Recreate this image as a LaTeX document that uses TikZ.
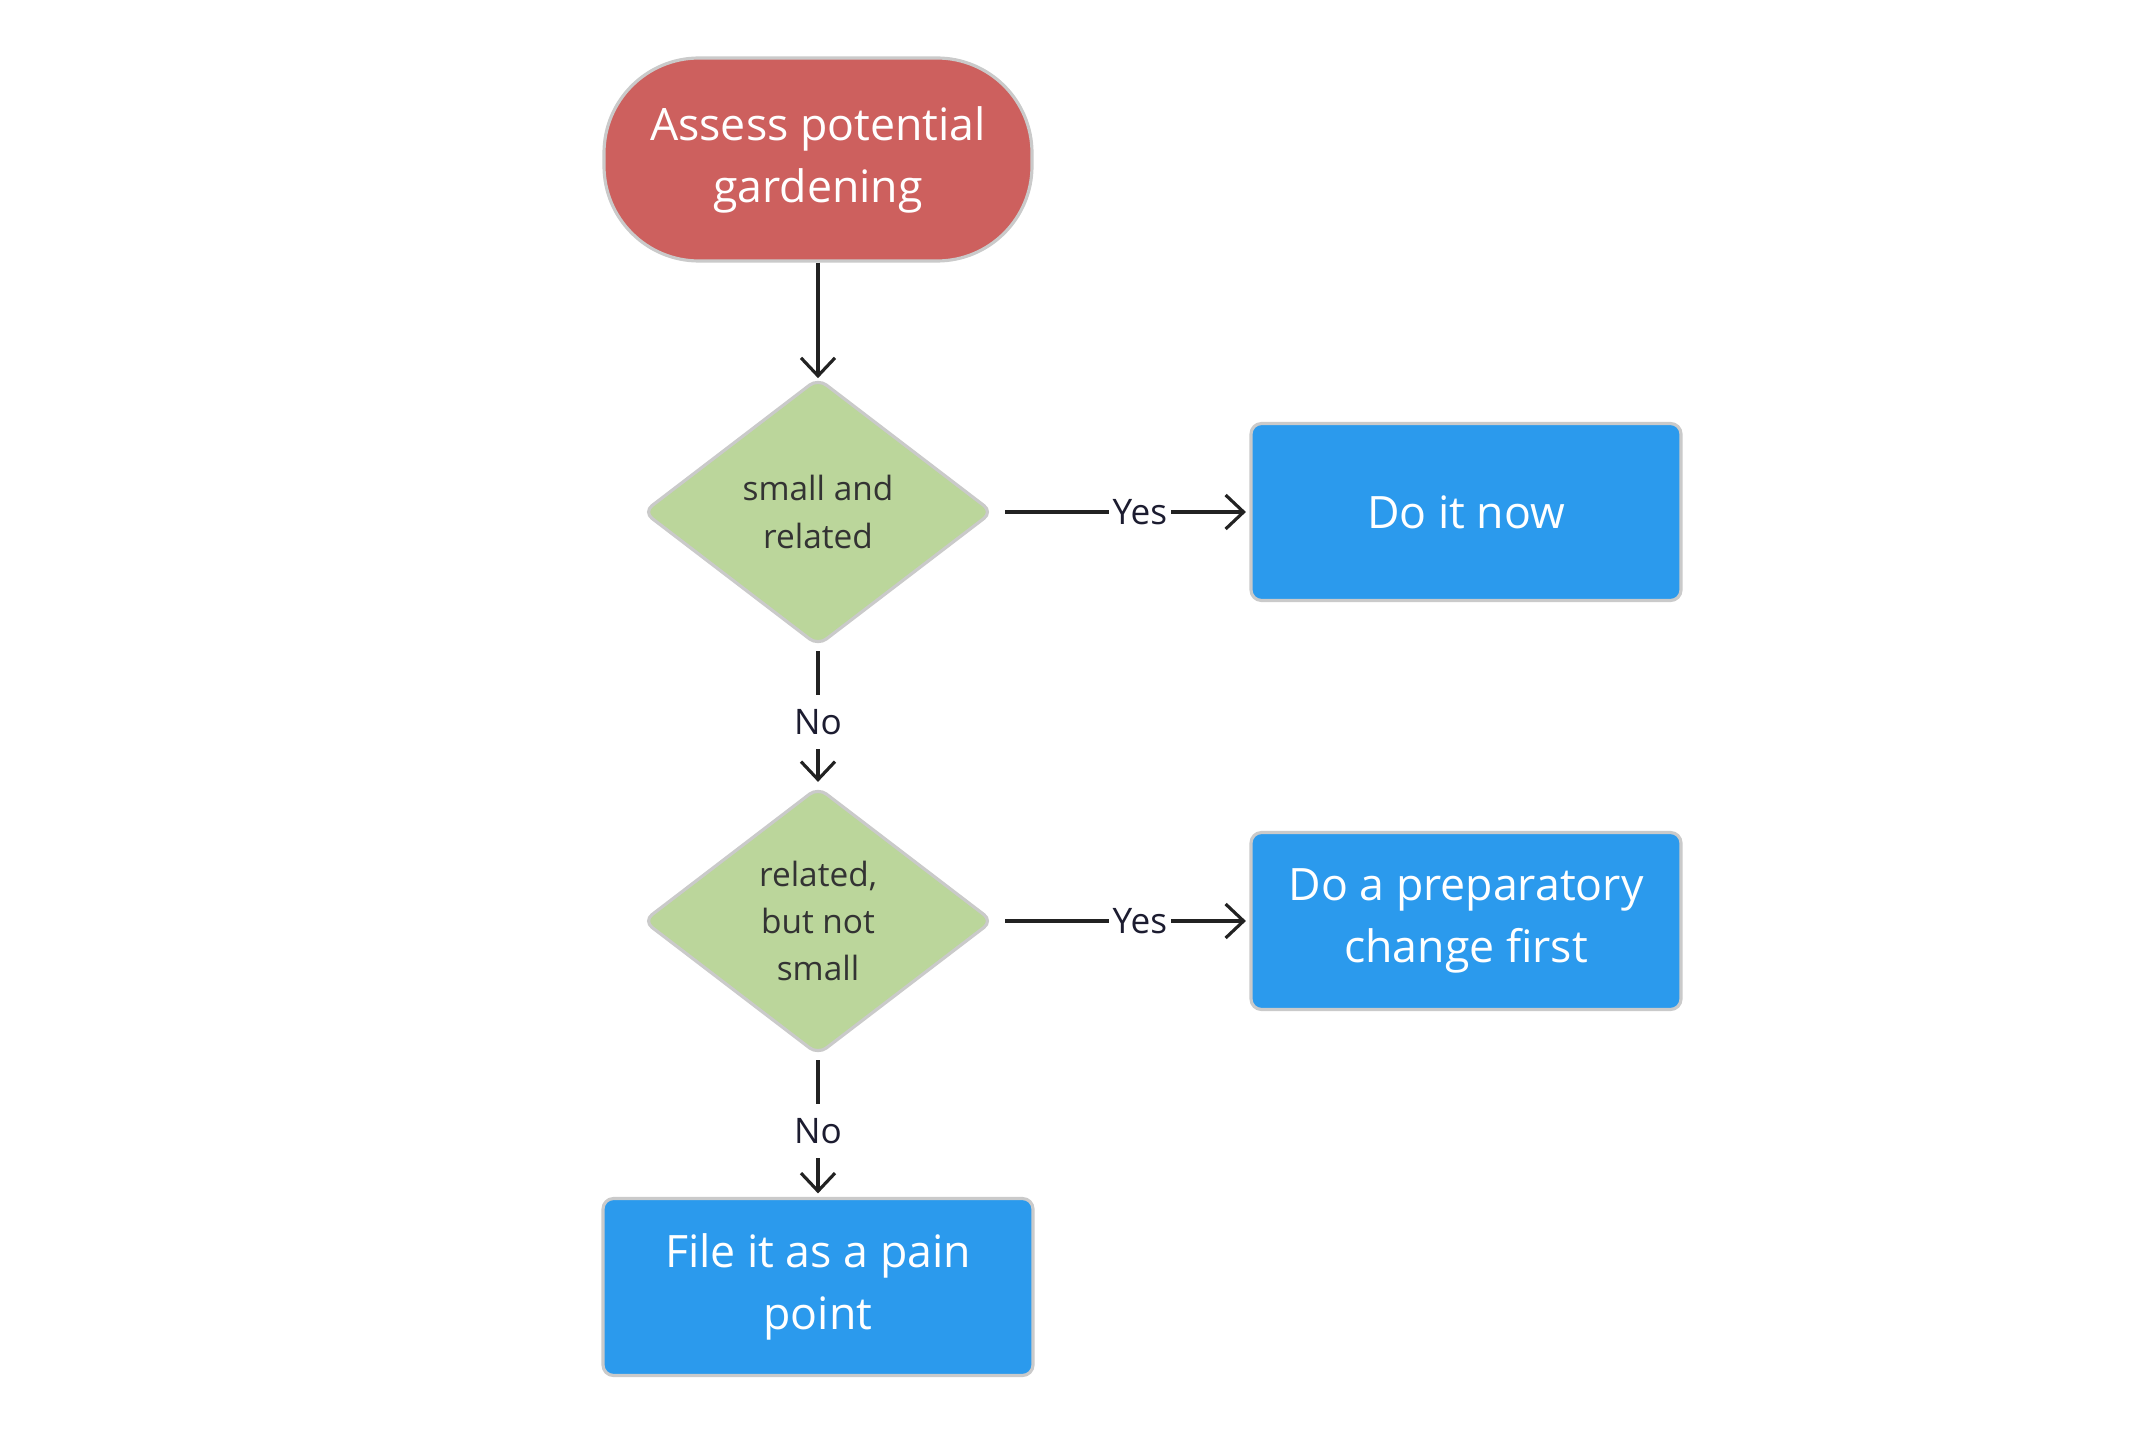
\documentclass[tikz,border=0pt]{standalone}
\usepackage{fontspec}
\setmainfont{Open Sans}
\usetikzlibrary{shapes.geometric,arrows.meta}
\definecolor{termred}{HTML}{CD605E}
\definecolor{decidegreen}{HTML}{BBD69B}
\definecolor{actionblue}{HTML}{2B9AED}
\definecolor{rimgray}{HTML}{CACACA}
\definecolor{linkgray}{HTML}{222222}
\definecolor{answerink}{HTML}{1C1C30}
\begin{document}
\begin{tikzpicture}[
  term/.style={draw=rimgray, line width=0.9pt, fill=termred, text=white, align=center,
    rounded corners=0.95cm, minimum width=4.28cm, minimum height=2.03cm,
    font=\fontsize{12.7}{17.6}\selectfont},
  decide/.style={diamond, draw=rimgray, line width=0.9pt, fill=decidegreen, text=black!80,
    align=center, inner sep=0pt, rounded corners=3pt, minimum width=3.5cm, minimum height=2.68cm,
    font=\fontsize{9.5}{13.4}\selectfont},
  action/.style={draw=rimgray, line width=0.9pt, fill=actionblue, text=white, align=center,
    rounded corners=3pt, minimum width=4.3cm, minimum height=1.77cm,
    font=\fontsize{12.7}{17.6}\selectfont},
  link/.style={-{Straight Barb[length=1.8mm,width=3.4mm]}, line width=0.9pt, color=linkgray},
  answer/.style={fill=white, inner xsep=1pt, inner ysep=4pt, text=answerink,
    font=\fontsize{10}{12}\selectfont}]
\useasboundingbox (0,0) rectangle (21.53,14.45);

\node[term] (assess) at (8.18,12.855) {Assess potential\\gardening};
\node[decide] (small) at (8.18,9.33) {small and\\related};
\node[action] (now) at (14.66,9.33) {Do it now};
\node[decide] (related) at (8.18,5.24) {related,\\but not\\small};
\node[action] (prep) at (14.66,5.24) {Do a preparatory\\change first};
\node[action] (file) at (8.18,1.58) {File it as a pain\\point};

\draw[link, shorten >=-0.5pt] (assess) -- (small);
\draw[link, shorten <=3pt, shorten >=1pt] (small) -- (now) node[answer, pos=0.57]{Yes};
\draw[link, shorten <=1pt, shorten >=1pt] (small) -- (related) node[answer, pos=0.54]{No};
\draw[link, shorten <=3pt, shorten >=1pt] (related) -- (prep) node[answer, pos=0.57]{Yes};
\draw[link, shorten <=1pt, shorten >=1pt] (related) -- (file) node[answer, pos=0.53]{No};

\end{tikzpicture}
\end{document}
